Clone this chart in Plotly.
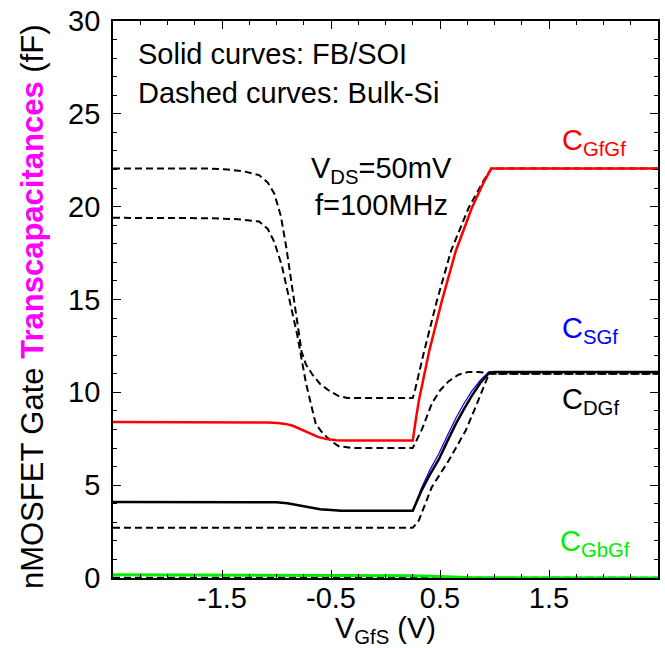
import plotly.graph_objects as go

# ---- data ----
# FB/SOI solid curves
red_x = [-2.5, -1.2, -1.08, -0.99, -0.92, -0.85, -0.78, -0.7, -0.62, -0.54, -0.45, -0.35, 0.25, 0.28, 0.306, 0.4, 0.516, 0.644, 0.79, 0.9, 0.97, 1.0, 2.5]
red_y = [8.4, 8.4, 8.38, 8.35, 8.3, 8.2, 8.02, 7.8, 7.6, 7.48, 7.42, 7.4, 7.4, 8.6, 9.55, 12.2, 14.9, 17.6, 19.9, 21.3, 22.05, 22.05, 22.05]

blk_x = [-2.5, -1.1, -1.0, -0.9, -0.79, -0.7, -0.6, -0.5, -0.4, 0.25, 0.33, 0.41, 0.49, 0.57, 0.645, 0.72, 0.79, 0.87, 0.95, 1.0, 2.5]
blk_y = [4.1, 4.1, 4.08, 4.03, 3.93, 3.81, 3.7, 3.64, 3.62, 3.62, 4.7, 5.6, 6.4, 7.4, 8.3, 9.1, 9.8, 10.5, 11.05, 11.1, 11.1]

blu_x = [-2.5, -1.1, -1.0, -0.9, -0.79, -0.7, -0.6, -0.5, -0.4, 0.25, 0.33, 0.41, 0.49, 0.57, 0.645, 0.72, 0.79, 0.87, 0.95, 1.0, 2.5]
blu_y = [4.1, 4.1, 4.08, 4.03, 3.93, 3.81, 3.7, 3.64, 3.62, 3.62, 4.85, 5.85, 6.7, 7.7, 8.6, 9.4, 10.05, 10.65, 11.1, 11.12, 11.12]

grn_x = [-2.5, -1.0, -0.5, 0.25, 0.5, 0.8, 2.5]
grn_y = [0.17, 0.16, 0.13, 0.12, 0.08, 0.01, 0.0]

# Bulk-Si dashed curves
d1_x = [-2.5, -1.6, -1.45, -1.3, -1.16, -1.08, -1.02, -0.96, -0.91, -0.84, -0.8, -0.77, -0.73, -0.67, -0.6, -0.52, -0.43, -0.35,
        0.25, 0.27, 0.35, 0.47, 0.6, 0.76, 0.9, 0.97, 2.5]
d1_y = [22.05, 22.05, 22.0, 21.9, 21.7, 21.3, 20.7, 19.5, 17.8, 15.0, 13.4, 12.2, 11.5, 10.95, 10.45, 10.1, 9.8, 9.7,
        9.7, 10.1, 12.1, 14.9, 17.6, 19.9, 21.4, 22.05, 22.05]

d2_x = [-2.5, -1.6, -1.35, -1.16, -1.08, -1.02, -0.95, -0.88, -0.81, -0.73, -0.68, -0.64, -0.59, -0.54, -0.48, -0.43, -0.3,
        0.25, 0.334, 0.425, 0.5, 0.58, 0.67, 0.76, 0.85, 0.946, 1.0, 2.5]
d2_y = [19.4, 19.38, 19.32, 19.2, 18.8, 18.1, 16.8, 15.0, 13.1, 10.5, 9.2, 8.3, 7.9, 7.6, 7.3, 7.1, 7.0,
        7.0, 8.0, 9.4, 10.1, 10.6, 10.95, 11.1, 11.1, 11.05, 11.0, 11.0]

d3_x = [-2.5, 0.25, 0.306, 0.425, 0.58, 0.736, 0.84, 0.95, 2.5]
d3_y = [2.7, 2.7, 3.1, 4.9, 6.33, 7.94, 9.4, 11.0, 11.0]

d0_x = [-2.5, 2.5]
d0_y = [0.02, 0.02]

x_ticks = [-1.5, -0.5, 0.5, 1.5]
x_ticktext = ["-1.5", "-0.5", "0.5", "1.5"]
y_ticks = [0, 5, 10, 15, 20, 25, 30]

FONT = "Liberation Sans, Arial, sans-serif"
FS = 29
DASH = "7px,4px"

fig = go.Figure()

def add(x, y, color, width, dash=None):
    fig.add_trace(go.Scatter(x=x, y=y, mode="lines",
                             line=dict(color=color, width=width, dash=dash),
                             showlegend=False, hoverinfo="skip"))

add(d0_x, d0_y, "black", 2, DASH)
add(grn_x, grn_y, "#00ee00", 3)
add(d1_x, d1_y, "black", 2, DASH)
add(d2_x, d2_y, "black", 2, DASH)
add(d3_x, d3_y, "black", 2, DASH)
add(blu_x, blu_y, "#0000ff", 1.2)
add(blk_x, blk_y, "black", 2.5)
add(red_x, red_y, "#ff0000", 2.5)

ann = []
def txt(x, y, s, color="black", xanchor="left", size=FS):
    ann.append(dict(x=x, y=y, xref="x", yref="y", text=s, showarrow=False,
                    xanchor=xanchor, yanchor="middle",
                    font=dict(family=FONT, size=size, color=color)))

txt(-2.29, 28.2, "Solid curves: FB/SOI")
txt(-2.29, 26.1, "Dashed curves: Bulk-Si")
txt(-0.04, 22.0, "V<sub>DS</sub>=50mV", xanchor="center")
txt(-0.04, 20.1, "f=100MHz", xanchor="center")
txt(1.6, 23.5, "C<sub>GfGf</sub>", "#ff0000")
txt(1.6, 13.35, "C<sub>SGf</sub>", "#0000ff")
txt(1.6, 9.55, "C<sub>DGf</sub>", "black")
txt(1.58, 1.9, "C<sub>GbGf</sub>", "#00ee00")

ann.append(dict(x=-0.148, y=0.487, xref="paper", yref="paper", textangle=-90,
                text="nMOSFET Gate <b><span style='color:#ff00ff'>Transcapacitances</span></b> (fF)",
                showarrow=False, xanchor="center", yanchor="middle",
                font=dict(family=FONT, size=31, color="black")))

fig.update_layout(
    width=665, height=648,
    margin=dict(l=113, r=5, t=19, b=70),
    paper_bgcolor="white", plot_bgcolor="white",
    font=dict(family=FONT, size=FS, color="black"),
    annotations=ann,
    xaxis=dict(range=[-2.5, 2.5], tickvals=x_ticks, ticktext=x_ticktext,
               ticks="inside", ticklen=8, tickwidth=1.3, tickcolor="black",
               minor=dict(dtick=0.25, tick0=-2.5, ticks="inside", ticklen=4, tickwidth=1, tickcolor="black"),
               showline=True, linecolor="black", linewidth=1.8, mirror="allticks",
               showgrid=False, zeroline=False, ticklabelstandoff=-7,
               title=dict(text="V<sub>GfS</sub> (V)", standoff=2, font=dict(size=FS)),
               tickfont=dict(size=FS)),
    yaxis=dict(range=[0, 30], tickvals=y_ticks,
               ticks="inside", ticklen=8, tickwidth=1.3, tickcolor="black",
               minor=dict(dtick=1, tick0=0, ticks="inside", ticklen=4, tickwidth=1, tickcolor="black"),
               showline=True, linecolor="black", linewidth=1.8, mirror="allticks",
               showgrid=False, zeroline=False, ticklabelstandoff=5, tickfont=dict(size=FS)),
)

fig.write_html("out.html")
